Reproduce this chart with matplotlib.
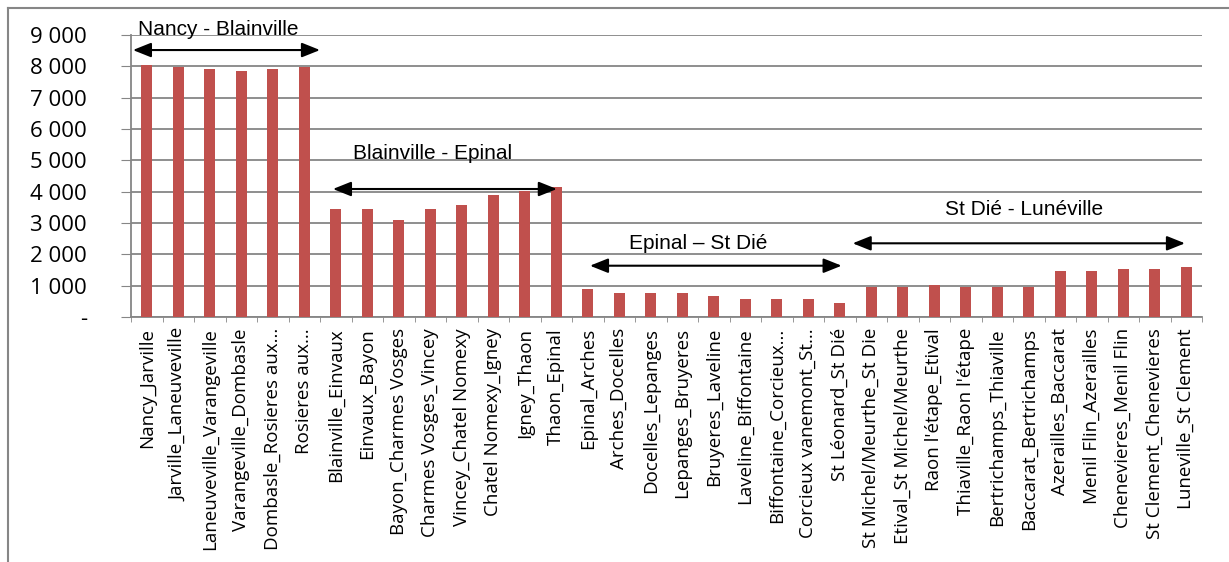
import matplotlib.pyplot as plt
from matplotlib.lines import Line2D
from matplotlib.ticker import FuncFormatter

# Segment names (x axis) and values
segments = [
    "Nancy_Jarville", "Jarville_Laneuveville", "Laneuveville_Varangeville",
    "Varangeville_Dombasle", "Dombasle_Rosieres aux...", "Rosieres aux...",
    "Blainville_Einvaux", "Einvaux_Bayon", "Bayon_Charmes Vosges",
    "Charmes Vosges_Vincey", "Vincey_Chatel Nomexy", "Chatel Nomexy_Igney",
    "Igney_Thaon", "Thaon_Epinal", "Epinal_Arches", "Arches_Docelles",
    "Docelles_Lepanges", "Lepanges_Bruyeres", "Bruyeres_Laveline",
    "Laveline_Biffontaine", "Biffontaine_Corcieux...", "Corcieux vanemont_St...",
    "St Léonard_St Dié", "St Michel/Meurthe_St Die", "Etival_St Michel/Meurthe",
    "Raon l'étape_Etival", "Thiaville_Raon l'étape", "Bertrichamps_Thiaville",
    "Baccarat_Bertrichamps", "Azerailles_Baccarat", "Menil Flin_Azerailles",
    "Chenevieres_Menil Flin", "St Clement_Chenevieres", "Luneville_St Clement",
]
traffic = [
    8050, 7980, 7930, 7860, 7930, 7980,
    3460, 3460, 3095, 3460, 3580, 3890, 4020, 4140,
    890, 775, 775, 775, 655, 580, 580, 580, 460,
    960, 960, 1020, 960, 960, 960, 1460, 1460, 1525, 1525, 1590,
]

# Section annotations: label, label x, label y, arrow start, arrow end, arrow y
sections = ["Nancy - Blainville", "Blainville - Epinal", "Epinal – St Dié", "St Dié - Lunéville"]
section_text_x = [2.28, 9.06, 17.5, 27.85]
section_text_y = [9190, 5234, 2330, 3415]
arrow_x0 = [-0.44, 5.91, 14.07, 22.41]
arrow_x1 = [5.5, 13.02, 22.06, 32.96]
arrow_y = [8520, 4085, 1637, 2352]

bar_color = "#C0504D"
grid_color = "#868686"

fig = plt.figure(figsize=(12.29, 5.62), dpi=100)
ax = fig.add_axes([131 / 1229, 1 - 317 / 562, 1071 / 1229, 282 / 562])

x = list(range(len(segments)))
ax.bar(x, traffic, width=0.36, color=bar_color, zorder=3)

ax.set_xlim(-0.5, len(segments) - 0.5)
ax.set_ylim(0, 9000)
ax.set_yticks(range(0, 9001, 1000))
ax.yaxis.set_major_formatter(FuncFormatter(
    lambda v, p: "-" if v == 0 else f"{int(v):,}".replace(",", " ")))
ax.tick_params(axis="y", length=7.2, color=grid_color, labelsize=16, pad=24.5)
for lab in ax.get_yticklabels():
    lab.set_fontfamily("Open Sans")

# labels under bars, tick marks between categories
ax.set_xticks(x)
ax.set_xticklabels(segments, rotation=90, fontsize=13.5, family="Open Sans")
ax.tick_params(axis="x", length=0, pad=8)
ax.set_xticks([i - 0.5 for i in range(len(segments) + 1)], minor=True)
ax.tick_params(axis="x", which="minor", length=3.6, color=grid_color, direction="out")

ax.grid(axis="y", color=grid_color, linewidth=1.3, zorder=0)
for side in ["top", "right"]:
    ax.spines[side].set_visible(False)
ax.spines["left"].set_color(grid_color)
ax.spines["bottom"].set_color(grid_color)
ax.spines["left"].set_linewidth(1.3)
ax.spines["bottom"].set_linewidth(1.3)

for name, tx, ty, a0, a1, ay in zip(sections, section_text_x, section_text_y,
                                    arrow_x0, arrow_x1, arrow_y):
    ax.text(tx, ty, name, ha="center", va="center", fontsize=15,
            family="Liberation Sans", clip_on=False, zorder=5)
    ax.annotate("", xy=(a1, ay), xytext=(a0, ay), annotation_clip=False,
                arrowprops=dict(arrowstyle="<|-|>,head_length=0.55,head_width=0.22",
                                color="black", lw=1.5,
                                mutation_scale=20, shrinkA=0, shrinkB=0),
                zorder=5)

# outer chart border (top and left visible)
fig.add_artist(Line2D([8 / 1229, 1.0], [1 - 8 / 562, 1 - 8 / 562],
                      color=grid_color, lw=1.5, transform=fig.transFigure))
fig.add_artist(Line2D([8 / 1229, 8 / 1229], [0, 1 - 8 / 562],
                      color=grid_color, lw=1.5, transform=fig.transFigure))

plt.savefig("out.png", dpi=100)
